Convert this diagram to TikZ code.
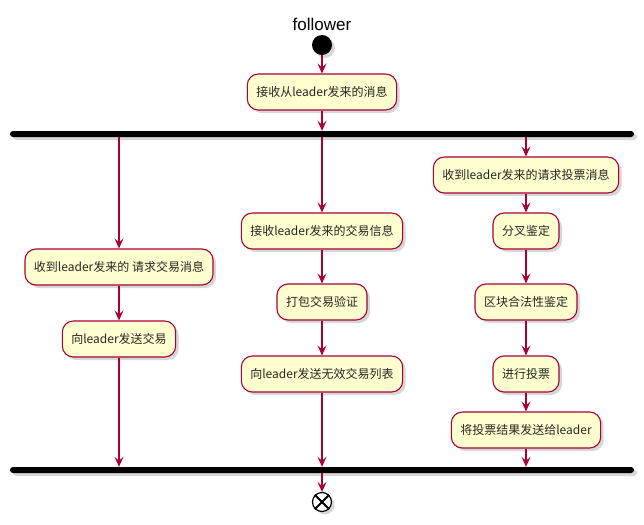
\documentclass[tikz,border=0pt]{standalone}
\usepackage{fontspec}
\setmainfont{Liberation Sans}
\newfontfamily\cjk{Noto Sans CJK SC}
\usetikzlibrary{arrows.meta, positioning, shadows}
\definecolor{cBorder}{HTML}{A80036}
\definecolor{cFill}{HTML}{FEFECE}
\tikzset{
	shade/.style    ={drop shadow={shadow xshift=3pt, shadow yshift=-3pt, fill=black!45, opacity=0.35}},
	act/.style      ={rectangle, rounded corners=11pt, draw=cBorder, fill=cFill, line width=1.1pt, minimum height=36pt, inner xsep=9pt, font=\cjk\fontsize{12}{14}\selectfont, text=black!85, shade},
	bar/.style      ={rectangle, rounded corners=3pt, fill=black, minimum width=624pt, minimum height=6pt, inner sep=0pt, shade},
	flow/.style     ={-{Stealth[length=10pt, width=9pt, inset=4pt]}, draw=cBorder, line width=1.1pt},
}

\begin{document}
\begin{tikzpicture}[x=1pt, y=-1pt]
	\useasboundingbox (0,0) rectangle (644,524);
	\node[font=\fontsize{17}{19}\selectfont] (title) at (322,24) {follower};
	\node[circle, fill=black, minimum size=20pt, inner sep=0pt, shade] (start) at (322,45) {};
	\node[act] (recv) at (322,92) {接收从leader发来的消息};
	\node[bar] (fork) at (322,134) {};
	% left branch
	\node[act] (txreq) at (119,267) {收到leader发来的 请求交易消息};
	\node[act] (sendtx) at (119,339) {向leader发送交易};
	% middle branch
	\node[act] (txinfo) at (322,231) {接收leader发来的交易信息};
	\node[act] (pack) at (322,302) {打包交易验证};
	\node[act] (invalid) at (322,374) {向leader发送无效交易列表};
	% right branch
	\node[act] (votereq) at (526,175) {收到leader发来的请求投票消息};
	\node[act] (fork chk) at (526,231) {分叉鉴定};
	\node[act] (blk chk) at (526,302) {区块合法性鉴定};
	\node[act] (vote) at (526,374) {进行投票};
	\node[act] (result) at (526,430) {将投票结果发送给leader};
	\node[bar] (join) at (322,470) {};
	\node[circle, draw=black, fill=white, line width=1.2pt, minimum size=19pt, inner sep=0pt, shade] (stop) at (322,502) {};
	\draw[line width=2pt] (stop.north west) -- (stop.south east) (stop.north east) -- (stop.south west);

	\draw[flow] (start) -- (recv);
	\draw[flow] (recv) -- (fork);
	\draw[flow] (fork.south -| txreq) -- (txreq);
	\draw[flow] (txreq) -- (sendtx);
	\draw[flow] (sendtx) -- (join.north -| sendtx);
	\draw[flow] (fork.south -| txinfo) -- (txinfo);
	\draw[flow] (txinfo) -- (pack);
	\draw[flow] (pack) -- (invalid);
	\draw[flow] (invalid) -- (join.north -| invalid);
	\draw[flow] (fork.south -| votereq) -- (votereq);
	\draw[flow] (votereq) -- (fork chk);
	\draw[flow] (fork chk) -- (blk chk);
	\draw[flow] (blk chk) -- (vote);
	\draw[flow] (vote) -- (result);
	\draw[flow] (result) -- (join.north -| result);
	\draw[flow] (join) -- (stop);
\end{tikzpicture}
\end{document}
